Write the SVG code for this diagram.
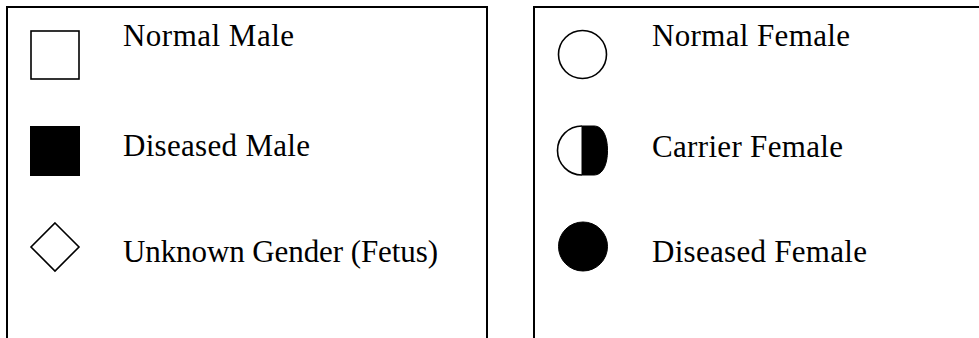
<svg xmlns="http://www.w3.org/2000/svg" width="979" height="338" viewBox="0 0 979 338">
  <style>
    .frame { fill: none; stroke: #000; stroke-width: 2; }
    .sym { fill: #fff; stroke: #000; stroke-width: 1.6; }
    .solid { fill: #000; stroke: #000; stroke-width: 1; }
    .label { font-family: "Liberation Serif", "Times New Roman", serif; font-size: 31px; fill: #000; }
  </style>

  <!-- legend panels (open at the bottom) -->
  <g id="panels">
    <path class="frame" d="M7,345 V7 H487 V345"/>
    <path class="frame" d="M534,345 V7 H990"/>
  </g>

  <!-- male / unknown column -->
  <g id="normal-male">
    <rect class="sym" x="31" y="31" width="48" height="48"/>
    <text class="label" x="123" y="46" textLength="171" lengthAdjust="spacing">Normal Male</text>
  </g>
  <g id="diseased-male">
    <rect class="solid" x="30.5" y="126.5" width="49" height="49"/>
    <text class="label" x="123" y="156" textLength="187" lengthAdjust="spacing">Diseased Male</text>
  </g>
  <g id="unknown-gender">
    <polygon class="sym" points="55,223 79,247 55,271 31,247"/>
    <text class="label" x="123" y="262" textLength="315" lengthAdjust="spacing">Unknown Gender (Fetus)</text>
  </g>

  <!-- female column -->
  <g id="normal-female">
    <circle class="sym" cx="582.5" cy="54.5" r="24"/>
    <text class="label" x="652" y="46" textLength="198" lengthAdjust="spacing">Normal Female</text>
  </g>
  <g id="carrier-female">
    <path class="sym" d="M582,126 A24.5,24.5 0 0 0 582,175"/>
    <path class="solid" d="M582,126 H594 C603,126 607.5,137 607.5,150.5 C607.5,164 603,175 594,175 H582 Z"/>
    <text class="label" x="652" y="157" textLength="191" lengthAdjust="spacing">Carrier Female</text>
  </g>
  <g id="diseased-female">
    <circle class="solid" cx="583" cy="246.5" r="24.5"/>
    <text class="label" x="652" y="262" textLength="215" lengthAdjust="spacing">Diseased Female</text>
  </g>

  <g id="connectors"/>
</svg>
